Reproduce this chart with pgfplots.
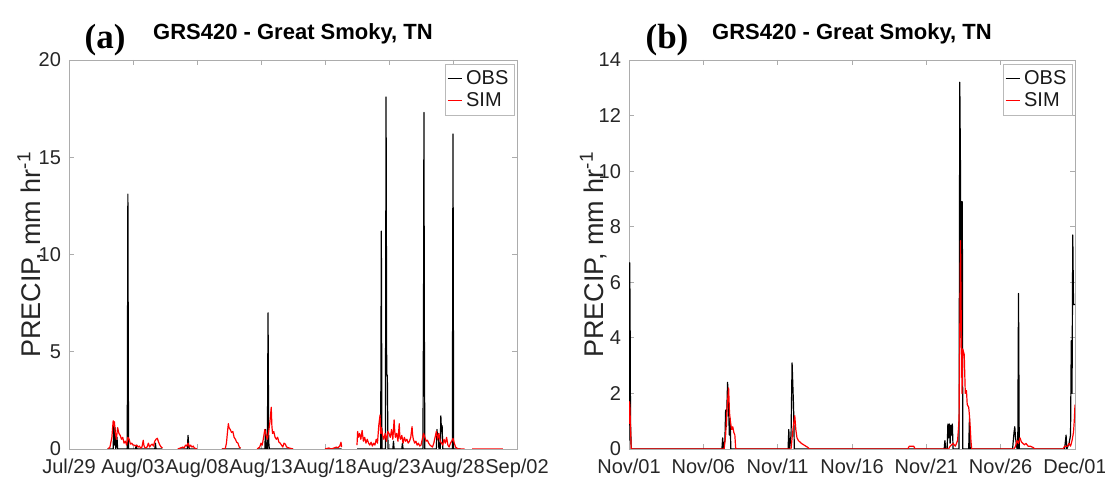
\documentclass[border=0pt]{standalone}
\usepackage{fontspec}
\setmainfont{Liberation Sans}
\newfontfamily\serifbold{Liberation Serif}
\usepackage{pgfplots}
\pgfplotsset{compat=1.18}

\pgfplotsset{
  matstyle/.style={
    scale only axis, height=194.5pt,
    enlargelimits=false,
    axis line style={gray!65, line width=0.4pt},
    tick style={gray!65, line width=0.4pt},
    tick align=inside, major tick length=2.5pt,
    xtick pos=both, ytick pos=both,
    xticklabel pos=lower, yticklabel pos=left,
    ticklabel style={font=\fontsize{10}{12}\selectfont, text=black!85},
    xticklabel style={yshift=-1.5pt},
    yticklabel style={xshift=-0.5pt},
    /pgf/number format/assume math mode=true,
    title style={font=\bfseries\fontsize{11}{13}\selectfont, at={(0.5,1)}, anchor=base, yshift=4pt},
    ylabel style={font=\fontsize{13.5}{15}\selectfont, text=black!85, anchor=center},
    legend style={at={(0.995,0.99)}, anchor=north east, draw=gray!55, line width=0.4pt,
      font=\fontsize{10}{11}\selectfont, inner sep=1pt, row sep=-1.5pt, text=black!90},
    legend cell align=left,
    legend image code/.code={\draw[#1] (0pt,0pt) -- (7pt,0pt);},
    unbounded coords=jump,
    every axis plot/.append style={line width=0.6pt, line join=round},
  }
}

\begin{document}
\begin{tikzpicture}
\useasboundingbox (0,0) rectangle (552.5pt,240pt);

% ---------- (a) summer ----------
\begin{axis}[matstyle, width=224pt,
  at={(34.5pt,15.5pt)}, anchor=south west,
  xmin=0, xmax=35, ymin=0, ymax=20,
  xtick={0,5,...,35},
  xticklabels={Jul/29,Aug/03,Aug/08,Aug/13,Aug/18,Aug/23,Aug/28,Sep/02},
  ytick={0,5,...,20},
  title={GRS420 - Great Smoky, TN},
  ylabel={PRECIP, mm hr\textsuperscript{-1}},
  ylabel style={at={(axis description cs:-0.085,0.5)}},
]
\addplot[black] coordinates {
(3.0,0)(3.45,0)(3.5,1.3)(3.55,0.2)(3.6,1.1)(3.65,0)(3.75,0.6)(3.8,0)(4.55,0)(4.6,13.1)(4.65,0)
(5.2,0)(5.25,0.2)(5.3,0)(6.7,0)(6.75,0.3)(6.8,0)(7.3,0)(7.35,nan)
(8.5,0)(9.25,0)(9.3,0.7)(9.35,0.2)(9.4,0)(10.0,0)(10.05,nan)
(11.95,0)(13.4,0)(13.45,nan)
(14.7,0)(15.3,0)(15.35,1.0)(15.4,0)(15.5,0)(15.55,7.0)(15.6,0.4)(15.65,0)(17.5,0)(17.55,nan)
(20.0,0)(21.3,0)(21.35,nan)
(22.5,0)(24.35,0)(24.4,11.2)(24.45,0)(24.72,0)(24.77,18.1)(24.82,3.8)(24.87,3.8)(24.92,0)
(25.3,0)(25.35,0.4)(25.4,0)(26.0,0)(26.05,0.3)(26.1,0)
(27.65,0)(27.7,7.5)(27.73,17.3)(27.76,6.4)(27.8,0)
(28.7,0)(28.75,1.0)(28.8,0.5)(28.85,0.8)(28.9,0)(29.0,0)(29.05,1.7)(29.1,0.9)(29.15,1.2)(29.2,0)
(29.95,0)(30.0,16.2)(30.05,0)(30.6,0)
};
\addlegendentry{OBS}
\addplot[red] coordinates {
(3.05,0)(3.2,0.1)(3.35,0.6)(3.45,1.45)(3.5,1.2)(3.55,1.4)(3.6,0.9)(3.7,0.5)(3.8,1.1)(3.9,0.8)
(4.0,0.7)(4.1,0.5)(4.2,0.6)(4.3,0.3)(4.4,0.4)(4.5,0.2)(4.6,0.6)(4.7,0.5)(4.8,0.25)(4.9,0.3)
(5.0,0.2)(5.1,0.2)(5.2,0.15)(5.3,0.2)(5.4,0.1)(5.5,0.15)(5.6,0.05)(5.7,0.1)(5.8,0.45)(5.85,0.2)
(5.9,0.1)(6.0,0.05)(6.1,0.1)(6.2,0.3)(6.3,0.1)(6.4,0.2)(6.5,0.25)(6.6,0.15)(6.7,0.4)(6.8,0.5)
(6.9,0.55)(7.0,0.35)(7.1,0.2)(7.2,0.1)(7.3,0.05)(7.35,nan)
(8.5,0)(8.7,0.05)(8.9,0.1)(9.0,0.05)(9.1,0.2)(9.2,0.15)(9.3,0.3)(9.4,0.1)(9.5,0.2)(9.6,0.1)
(9.7,0.15)(9.8,0.05)(10.0,0)(10.05,nan)
(11.95,0)(12.2,0)(12.3,0.3)(12.4,1.0)(12.45,1.3)(12.5,1.1)(12.6,1.0)(12.7,0.85)(12.8,0.9)
(12.9,0.6)(13.0,0.5)(13.1,0.35)(13.2,0.3)(13.3,0.1)(13.4,0.05)(13.45,nan)
(14.7,0)(14.9,0.1)(15.0,0.3)(15.1,0.2)(15.2,0.6)(15.3,1.0)(15.4,0.7)(15.5,0.5)(15.6,0.9)
(15.7,1.4)(15.8,2.15)(15.85,1.2)(15.9,0.8)(16.0,0.9)(16.1,0.6)(16.2,0.5)(16.3,0.6)(16.4,0.35)
(16.5,0.3)(16.6,0.2)(16.7,0.1)(16.8,0.3)(16.9,0.25)(17.0,0.1)(17.2,0.05)(17.5,0)(17.55,nan)
(20.0,0)(20.3,0.05)(20.5,0)(20.7,0.05)(20.9,0.1)(21.0,0.05)(21.15,0.15)(21.25,0.35)(21.3,0.1)(21.35,nan)
(22.5,0.2)(22.55,0.9)(22.6,0.6)(22.7,0.8)(22.8,0.5)(22.9,0.95)(23.0,0.4)(23.1,0.6)(23.2,0.3)
(23.3,0.5)(23.4,0.3)(23.5,0.2)(23.6,0.35)(23.7,0.15)(23.8,0.3)(23.9,0.2)(24.0,0.5)(24.1,0.3)
(24.2,1.2)(24.3,1.75)(24.35,0.8)(24.4,1.1)(24.5,0.7)(24.6,0.5)(24.7,0.8)(24.8,0.4)(24.9,0.9)
(25.0,0.8)(25.1,0.6)(25.2,1.0)(25.3,0.5)(25.4,1.5)(25.45,0.9)(25.5,0.6)(25.6,0.8)(25.7,0.4)
(25.8,1.3)(25.85,0.6)(25.9,0.5)(26.0,0.7)(26.1,0.3)(26.2,0.6)(26.3,0.4)(26.4,0.5)(26.5,0.3)
(26.6,0.4)(26.7,0.6)(26.8,1.15)(26.85,0.7)(26.9,0.5)(27.0,0.3)(27.1,0.4)(27.2,0.2)(27.3,0.3)
(27.4,0.15)(27.5,0.2)(27.6,0.5)(27.7,0.8)(27.8,0.6)(27.9,0.4)(28.0,0.45)(28.1,0.3)(28.2,0.2)
(28.3,0.15)(28.4,0.1)(28.5,0.3)(28.6,0.6)(28.7,0.9)(28.8,0.5)(28.9,0.8)(29.0,0.4)(29.1,0.3)
(29.2,0.2)(29.3,0.5)(29.4,0.3)(29.5,0.6)(29.6,0.2)(29.7,0.1)(29.8,0.3)(29.9,0.4)(30.0,0.55)
(30.1,0.3)(30.2,0.1)(30.3,0.05)(30.4,0)(30.9,0)(30.95,nan)
(31.5,0)(33.9,0)
};
\addlegendentry{SIM}
\end{axis}

% ---------- (b) autumn ----------
\begin{axis}[matstyle, width=223pt,
  at={(314.5pt,15.5pt)}, anchor=south west,
  xmin=0, xmax=30, ymin=0, ymax=14,
  xtick={0,5,...,30},
  xticklabels={Nov/01,Nov/06,Nov/11,Nov/16,Nov/21,Nov/26,Dec/01},
  ytick={0,2,...,14},
  title={GRS420 - Great Smoky, TN},
  ylabel={PRECIP, mm hr\textsuperscript{-1}},
  ylabel style={at={(axis description cs:-0.08,0.5)}},
]
\addplot[black] coordinates {
(0,0.3)(0.02,2.5)(0.05,6.7)(0.08,4.0)(0.1,1.0)(0.15,0)
(6.25,0)(6.3,0.4)(6.35,0)(6.45,0.3)(6.5,1.4)(6.55,0.8)(6.63,2.4)(6.7,1.5)(6.75,0.5)(6.8,1.1)(6.85,0)
(10.7,0)(10.75,0.7)(10.8,0)(10.9,0.5)(10.97,3.1)(11.02,2.3)(11.07,1.5)(11.12,0)
(21.2,0)(21.25,0.3)(21.3,0)(21.4,0)(21.45,0.9)(21.5,0.4)(21.55,0.9)(21.6,0.2)(21.65,0.85)
(21.7,0.5)(21.75,0.9)(21.8,0)(22.2,0)(22.25,13.2)(22.3,9.8)(22.33,4.0)(22.37,8.9)(22.42,8.9)(22.45,0)
(22.85,0)(22.9,1.1)(22.95,0)
(25.8,0)(25.9,0.6)(25.95,0.8)(26.0,0.4)(26.1,0)(26.15,0)(26.2,5.6)(26.25,0)
(29.3,0)(29.4,0.5)(29.45,0)(29.6,0.2)(29.7,0.5)(29.75,3.9)(29.8,2.0)(29.85,7.7)(29.9,5.2)(30,5.2)
};
\addlegendentry{OBS}
\addplot[red] coordinates {
(0,0.9)(0.03,1.7)(0.06,1.5)(0.1,0.8)(0.15,0)
(6.4,0)(6.5,0.5)(6.6,1.5)(6.7,2.2)(6.76,1.3)(6.82,1.0)(6.9,0.7)(6.98,0.8)(7.05,0.6)(7.12,0.5)(7.18,0)
(10.9,0)(10.97,0.4)(11.05,0.8)(11.15,1.2)(11.22,0.7)(11.3,0.4)(11.4,0.3)(11.5,0.25)(11.6,0.2)
(11.75,0.15)(11.9,0.1)(12.05,0.05)(12.15,0)
(18.75,0)(18.85,0.1)(19.15,0.1)(19.25,0)
(21.5,0)(21.6,0.1)(21.8,0.2)(21.95,0.1)(22.1,0.3)(22.2,1.0)(22.3,7.5)(22.35,4.5)(22.4,2.0)
(22.45,3.6)(22.55,3.4)(22.62,2.0)(22.7,2.1)(22.75,1.6)(22.85,1.5)(22.9,1.2)(22.95,0.8)(23.0,0.3)(23.05,0)
(25.9,0)(26.0,0.1)(26.1,0.3)(26.2,0.2)(26.3,0.4)(26.4,0.25)(26.5,0.2)(26.6,0.15)(26.7,0.2)
(26.85,0.1)(27.0,0.1)(27.2,0.05)(27.3,0)
(29.2,0)(29.3,0.1)(29.5,0.1)(29.6,0.2)(29.7,0.1)(29.8,0.3)(29.9,0.6)(29.95,1.0)(30,1.6)
};
\addlegendentry{SIM}
\end{axis}

\node[font=\serifbold\bfseries\fontsize{17.5}{18}\selectfont] at (52.5pt,220pt) {(a)};
\node[font=\serifbold\bfseries\fontsize{17.5}{18}\selectfont] at (333.5pt,220pt) {(b)};
\end{tikzpicture}
\end{document}
